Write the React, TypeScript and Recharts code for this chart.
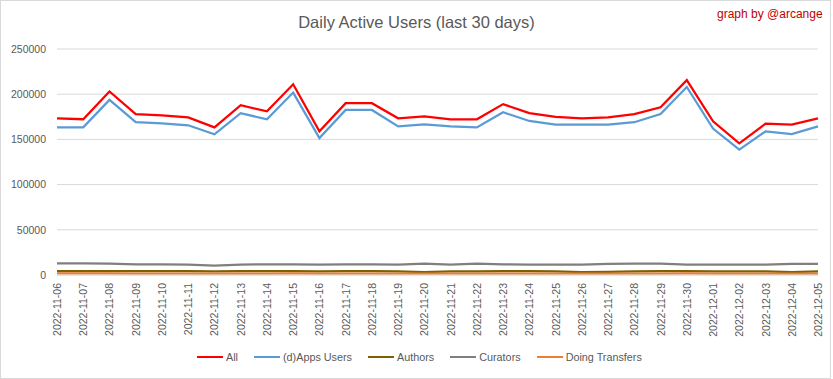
import React from 'react';
import { LineChart, Line, XAxis, YAxis, CartesianGrid, Legend } from 'recharts';

const dates = [
  '2022-11-06','2022-11-07','2022-11-08','2022-11-09','2022-11-10','2022-11-11','2022-11-12','2022-11-13','2022-11-14','2022-11-15',
  '2022-11-16','2022-11-17','2022-11-18','2022-11-19','2022-11-20','2022-11-21','2022-11-22','2022-11-23','2022-11-24','2022-11-25',
  '2022-11-26','2022-11-27','2022-11-28','2022-11-29','2022-11-30','2022-12-01','2022-12-02','2022-12-03','2022-12-04','2022-12-05',
];
const allUsers = [
  173300,172300,203000,178000,176700,174400,163300,187800,181000,211000,
  159000,190000,190000,173300,175600,172200,172200,189000,179000,174800,
  173300,174400,178000,185600,215600,170000,145600,167400,166300,173300,
];
const appsUsers = [
  163300,163300,193700,169000,167800,165600,155600,179000,172200,201800,
  151500,182600,182600,164400,166700,164400,163300,180000,170400,166300,
  166300,166300,169000,178000,208000,162000,138700,158900,155900,164400,
];
const authors = [
  4300,4300,4300,4200,4200,4200,4000,4200,4200,4300,
  4100,4200,4200,4100,3100,4100,4100,4200,4200,4100,
  3300,3400,4100,4200,4200,4100,4000,4000,3100,4000,
];
const curators = [
  12800,12800,12700,11800,11800,11500,10500,11500,11800,11800,
  11600,11700,11700,11600,12600,11600,12500,11700,11600,11600,
  11500,12400,12500,12500,11500,11500,11400,11500,12400,12400,
];
const transfers = [
  1700,1700,1700,1600,1600,1600,1500,1600,1600,1700,
  1500,1600,1600,1600,1500,1500,1600,1600,1600,1600,
  1500,1500,1600,1600,1700,1600,1500,1500,1500,1600,
];
const yTicks = [0, 50000, 100000, 150000, 200000, 250000];

const series = [
  { key: 'all', name: 'All', color: '#FF0000' },
  { key: 'apps', name: '(d)Apps Users', color: '#5B9BD5' },
  { key: 'authors', name: 'Authors', color: '#7F6000' },
  { key: 'curators', name: 'Curators', color: '#7F7F7F' },
  { key: 'transfers', name: 'Doing Transfers', color: '#ED7D31' },
];

const data = dates.map((d, i) => ({
  date: d,
  all: allUsers[i],
  apps: appsUsers[i],
  authors: authors[i],
  curators: curators[i],
  transfers: transfers[i],
}));

const FONT = '"Liberation Sans", Arial, sans-serif';

const XTick = (props: any) => {
  const { x, y, payload } = props;
  return (
    <text
      x={x}
      y={y}
      transform={`rotate(-90, ${x}, ${y})`}
      textAnchor="end"
      dominantBaseline="central"
      fontSize={10.5}
      fontFamily={FONT}
      fill="#595959"
    >
      {payload.value}
    </text>
  );
};

const LegendContent = () => (
  <div style={{ display: 'flex', alignItems: 'center', fontFamily: FONT, fontSize: 10.8, color: '#595959', whiteSpace: 'nowrap' }}>
    {series.map((s) => (
      <div key={s.key} style={{ display: 'flex', alignItems: 'center', marginRight: 16 }}>
        <div style={{ width: 26, height: 2.25, background: s.color, marginRight: 3 }} />
        <span>{s.name}</span>
      </div>
    ))}
  </div>
);

export default function App() {
  return (
    <div style={{ position: 'absolute', left: 0, top: 0, width: 833, height: 379, background: '#fff' }}>
      <div style={{ position: 'absolute', left: 0, top: 0, width: 829, height: 377, border: '1px solid #D9D9D9' }} />
      <div style={{ position: 'absolute', left: 0, top: 12, width: 833, textAlign: 'center', fontFamily: FONT, fontSize: 16.5, color: '#595959', lineHeight: '20px' }}>
        Daily Active Users (last 30 days)
      </div>
      <div style={{ position: 'absolute', left: 717, top: 6, fontFamily: FONT, fontSize: 12, color: '#C00000', lineHeight: '16px' }}>
        graph by @arcange
      </div>
      <div style={{ position: 'absolute', left: 0, top: 0 }}>
        <LineChart width={833} height={379} data={data} margin={{ top: 49, right: 15, left: 0, bottom: 44 }}>
          <CartesianGrid vertical={false} stroke="#D9D9D9" strokeWidth={1} />
          <XAxis
            dataKey="date"
            interval={0}
            height={60}
            tickLine={false}
            tickSize={0}
            tickMargin={8}
            axisLine={{ stroke: '#D9D9D9' }}
            tick={<XTick />}
          />
          <YAxis
            width={57}
            domain={[0, 250000]}
            ticks={yTicks}
            axisLine={false}
            tickLine={false}
            tickSize={0}
            tickMargin={11}
            tick={{ fontSize: 10.5, fontFamily: FONT, fill: '#595959' }}
          />
          {series.map((s) => (
            <Line
              key={s.key}
              type="linear"
              dataKey={s.key}
              name={s.name}
              stroke={s.color}
              strokeWidth={2.25}
              dot={false}
              activeDot={false}
              isAnimationActive={false}
            />
          ))}
          <Legend
            layout="horizontal"
            verticalAlign="middle"
            align="center"
            wrapperStyle={{ top: 351, left: 197, width: 470, height: 16 }}
            content={<LegendContent />}
          />
        </LineChart>
      </div>
    </div>
  );
}
